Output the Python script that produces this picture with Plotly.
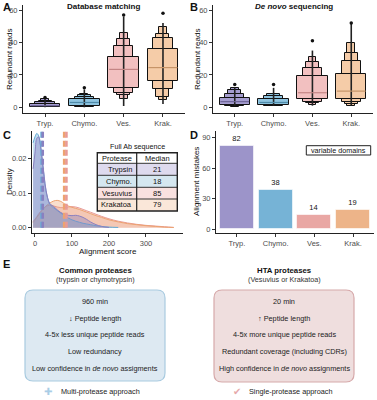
import plotly.graph_objects as go

W, H = 377, 400
FONT = "Liberation Sans, Arial, sans-serif"

# ---------------- data ----------------
categories = ["Tryp.", "Chymo.", "Ves.", "Krak."]
proteases = ["Trypsin", "Chymo.", "Vesuvius", "Krakatoa"]

# Panel A: database matching, letter-value boxes (lower, upper), innermost first
db_boxes = [
    [(0, 2), (0, 3), (0, 4), (0, 5)],
    [(1, 5), (0.5, 6.5), (0, 7.5), (0, 8.5)],
    [(12, 31), (9, 38), (7.5, 42), (4.9, 45.6)],
    [(16, 35.8), (11, 42.5), (6.6, 45), (4.5, 49.5)],
]
db_medians = [1, 3, 23.4, 24.5]
db_min = [0, 0, 0.8, 2]
db_whisker_top = [5.5, 11, 56, 52]
db_outliers = [6, 12, 57, 58]

# Panel B: de novo sequencing
dn_boxes = [
    [(1.5, 6), (1, 8), (0.8, 10.5), (0.5, 12)],
    [(1.5, 5), (1, 7), (0.8, 8.5)],
    [(5, 19.3), (3.5, 24.5), (2.5, 28), (1.5, 31)],
    [(5, 20.3), (3.5, 28.5), (2, 33.7), (1, 39.5)],
]
dn_medians = [3.5, 3, 9, 10]
dn_min = [1, 1, 1, 1]
dn_whisker_top = [12.5, 12, 35, 52]
dn_outliers = [14, 14, 41, 52]

# Panel C: alignment score densities
score_grid = [-5, 0, 5, 10, 15, 20, 25, 30, 40, 50, 60, 70, 80, 90, 100, 110, 120,
              130, 140, 150, 165, 180, 200, 225, 250, 275, 300, 325, 350, 375]
dens_tryp = [0.0170, 0.0215, 0.0258, 0.0262, 0.0238, 0.0195, 0.0148, 0.0108, 0.0070,
             0.0062, 0.0052, 0.0044, 0.0039, 0.0036, 0.0035, 0.0036, 0.0034, 0.0030,
             0.0024, 0.0017, 0.0009, 0.0004, 0.0001]
dens_chymo = [0.0245, 0.0262, 0.0272, 0.0265, 0.0235, 0.0190, 0.0145, 0.0105, 0.0068,
              0.0058, 0.0050, 0.0042, 0.0035, 0.0028, 0.0023, 0.0019, 0.0016, 0.0013,
              0.0011, 0.0009, 0.0006, 0.0004, 0.0002, 0.0001]
dens_ves = [0.0018, 0.0025, 0.0032, 0.0040, 0.0047, 0.0053, 0.0058, 0.0062, 0.0065,
            0.0063, 0.0060, 0.0058, 0.0058, 0.0060, 0.0061, 0.0060, 0.0057, 0.0053,
            0.0049, 0.0045, 0.0039, 0.0033, 0.0026, 0.0019, 0.0014, 0.0010, 0.0007,
            0.0005, 0.0003, 0.0001]
dens_krak = [0.0015, 0.0022, 0.0030, 0.0037, 0.0044, 0.0051, 0.0057, 0.0063, 0.0071,
             0.0077, 0.0079, 0.0076, 0.0069, 0.0063, 0.0059, 0.0056, 0.0053, 0.0049,
             0.0045, 0.0041, 0.0035, 0.0030, 0.0023, 0.0017, 0.0012, 0.0009, 0.0006,
             0.0004, 0.0002, 0.0001]
median_scores = [21, 18, 85, 79]

# Panel D: alignment mistakes (variable domains)
mistakes = [82, 38, 14, 19]

# Panel E texts
common_items = ["960 min", "<b>↓</b> Peptide length", "4-5x less unique peptide reads",
                "Low redundancy", "Low confidence in <i>de novo</i> assigments"]
hta_items = ["20 min", "<b>↑</b> Peptide length", "4-5x more unique peptide reads",
             "Redundant coverage (including CDRs)", "High confidence in <i>de novo</i> assignments"]

# ---------------- style ----------------
box_fill = ["#a59dd0", "#8ec4e0", "#f2c0c0", "#f5cca8"]
median_col = ["#6d6596", "#4f8aa8", "#c48585", "#c69468"]
line_col = ["#8a80c0", "#63abd6", "#e89a97", "#eda370"]
fill_col = ["rgba(138,128,192,0.40)", "rgba(99,171,214,0.40)",
            "rgba(232,154,151,0.35)", "rgba(237,163,112,0.35)"]
bar_col = ["#9c94c9", "#76b3d6", "#e9a7a4", "#edb489"]
row_fill = ["#dedaee", "#d5e7f0", "#f9e1e0", "#fae7d9"]
level_widths = [0.78, 0.5, 0.33, 0.2, 0.12]


def px(x):
    return x / W


def py(y):
    return 1 - y / H


fig = go.Figure()


def add_boxen(boxes, medians, mins, wtops, outs, xa, ya):
    idx = list(range(len(categories)))
    for i in idx:
        fig.add_trace(go.Scatter(x=[i, i], y=[mins[i], wtops[i]], mode="lines",
                                 line=dict(color="#222", width=1.6), xaxis=xa, yaxis=ya,
                                 showlegend=False, hoverinfo="skip"))
        fig.add_trace(go.Scatter(x=[i], y=[outs[i]], mode="markers",
                                 marker=dict(color="#111", size=3.5), xaxis=xa, yaxis=ya,
                                 showlegend=False, hoverinfo="skip"))
    nlev = max(len(b) for b in boxes)
    for lev in range(nlev - 1, -1, -1):
        xs, bases, hs, ws, cs = [], [], [], [], []
        for i in idx:
            if lev < len(boxes[i]):
                lo, hi = boxes[i][lev]
                xs.append(i)
                bases.append(lo)
                hs.append(hi - lo)
                ws.append(level_widths[lev])
                cs.append(box_fill[i])
        fig.add_trace(go.Bar(x=xs, y=hs, base=bases, width=ws,
                             marker=dict(color=cs, line=dict(color="#111", width=1)),
                             xaxis=xa, yaxis=ya, showlegend=False, hoverinfo="skip"))
    for i in idx:
        w = level_widths[0] / 2
        fig.add_trace(go.Scatter(x=[i - w + 0.02, i + w - 0.02], y=[medians[i]] * 2, mode="lines",
                                 line=dict(color=median_col[i], width=1.2), xaxis=xa, yaxis=ya,
                                 showlegend=False, hoverinfo="skip"))


add_boxen(db_boxes, db_medians, db_min, db_whisker_top, db_outliers, "x", "y")
add_boxen(dn_boxes, dn_medians, dn_min, dn_whisker_top, dn_outliers, "x2", "y2")

# Panel C densities
dens = [dens_tryp, dens_chymo, dens_ves, dens_krak]
for i in [2, 3, 1, 0]:
    d = dens[i]
    fig.add_trace(go.Scatter(x=score_grid[:len(d)], y=d, mode="lines", fill="tozeroy",
                             fillcolor=fill_col[i], line=dict(color=line_col[i], width=1, shape="spline"),
                             xaxis="x3", yaxis="y3", showlegend=False, hoverinfo="skip"))
for i in [1, 0, 3, 2]:
    fig.add_trace(go.Scatter(x=[median_scores[i]] * 2, y=[0, 0.0278], mode="lines",
                             line=dict(color=line_col[i], width=2.6, dash="6px,3px"),
                             xaxis="x3", yaxis="y3", showlegend=False, hoverinfo="skip"))

# Panel D bars
fig.add_trace(go.Bar(x=list(range(4)), y=mistakes, width=0.88, text=[str(v) for v in mistakes],
                     textposition="outside", textfont=dict(size=7.5, color="#111", family=FONT),
                     marker=dict(color=bar_col, line=dict(color="rgba(255,255,255,0.6)", width=1)),
                     cliponaxis=False, xaxis="x4", yaxis="y4", showlegend=False, hoverinfo="skip"))

tickfont = dict(size=7.5, color="#4d4d4d", family=FONT)
ax_common = dict(showline=True, linecolor="#222", linewidth=1, ticks="outside", ticklen=3,
                 tickcolor="#333", tickwidth=1, showgrid=False, zeroline=False, tickfont=tickfont,
                 fixedrange=True)

cat_axis = dict(tickvals=[0, 1, 2, 3], ticktext=categories, **ax_common)

fig.update_layout(
    width=W, height=H, margin=dict(l=0, r=0, t=0, b=0),
    paper_bgcolor="white", plot_bgcolor="rgba(0,0,0,0)",
    barmode="overlay", bargap=0, showlegend=False,
    font=dict(family=FONT, color="#111"),
    xaxis=dict(domain=[px(23), px(185)], anchor="y", range=[-0.56, 3.56], **cat_axis),
    yaxis=dict(domain=[py(113), py(5)], anchor="x", range=[-3.5, 63.1], tickvals=[0, 20, 40, 60], **ax_common),
    xaxis2=dict(domain=[px(213), px(373)], anchor="y2", range=[-0.56, 3.56], **cat_axis),
    yaxis2=dict(domain=[py(113), py(5)], anchor="x2", range=[-3.5, 63.1], tickvals=[0, 20, 40, 60], **ax_common),
    xaxis3=dict(domain=[px(32), px(183)], anchor="y3", range=[-8, 400], tickvals=[0, 100, 200, 300], **ax_common),
    yaxis3=dict(domain=[py(233), py(131)], anchor="x3", range=[-0.0015, 0.0279], tickvals=[0, 0.01, 0.02],
                tickformat=".2f", **ax_common),
    xaxis4=dict(domain=[px(216), px(374)], anchor="y4", range=[-0.54, 3.54], **cat_axis),
    yaxis4=dict(domain=[py(233), py(131)], anchor="x4", range=[-3.9, 96.6], tickvals=[0, 30, 60, 90], **ax_common),
)

ann = []


def text(x, y, t, size=7.5, color="#111", bold=False, xanchor="center", angle=0, family=FONT):
    if bold:
        t = "<b>" + t + "</b>"
    ann.append(dict(x=px(x), y=py(y), xref="paper", yref="paper", text=t, showarrow=False,
                    font=dict(size=size, color=color, family=family), xanchor=xanchor,
                    yanchor="middle", textangle=angle))


for lab, x, y in [("A", 1, 7), ("B", 188, 7), ("C", 1, 135), ("D", 188, 135), ("E", 1, 264)]:
    text(x, y, lab, size=11, bold=True, xanchor="left")

text(103, 6, "Database matching", size=8, bold=True)
text(294, 6, "<i>De novo</i> sequencing", size=8, bold=True)

text(9, 60, "Redundant reads", size=8, angle=-90)
text(197, 60, "Redundant reads", size=8, angle=-90)
text(9, 182, "Density", size=8, angle=-90)
text(196, 182, "Alignment mistakes", size=8, angle=-90)
text(108, 251.5, "Alignment score", size=8)

text(338.5, 150.3, "variable domains", size=7.2)

tx0, tx1, tx2 = 97.3, 136.7, 177.3
rows = [152.7, 163.3, 175.3, 187.3, 199.0, 211.0]
shapes = []
for r in range(4):
    shapes.append(dict(type="rect", xref="paper", yref="paper", x0=px(tx0), x1=px(tx2),
                       y0=py(rows[r + 2]), y1=py(rows[r + 1]), fillcolor=row_fill[r],
                       line=dict(width=0), layer="above"))
shapes.append(dict(type="rect", xref="paper", yref="paper", x0=px(tx0), x1=px(tx2),
                   y0=py(rows[1]), y1=py(rows[0]), fillcolor="white", line=dict(width=0), layer="above"))
for yy in rows[1:-1]:
    shapes.append(dict(type="line", xref="paper", yref="paper", x0=px(tx0), x1=px(tx2),
                       y0=py(yy), y1=py(yy), line=dict(color="#333", width=1), layer="above"))
shapes.append(dict(type="line", xref="paper", yref="paper", x0=px(tx1), x1=px(tx1),
                   y0=py(rows[0]), y1=py(rows[-1]), line=dict(color="#222", width=1.2), layer="above"))
shapes.append(dict(type="rect", xref="paper", yref="paper", x0=px(tx0), x1=px(tx2),
                   y0=py(rows[-1]), y1=py(rows[0]), line=dict(color="#222", width=1.4), layer="above"))
text(137.3, 146, "Full Ab sequence", size=7.2)
text(tx1 - 3, (rows[0] + rows[1]) / 2, "Protease", size=7.5, xanchor="right")
text((tx1 + tx2) / 2, (rows[0] + rows[1]) / 2, "Median", size=7.5)
for r in range(4):
    yc = (rows[r + 1] + rows[r + 2]) / 2
    text(tx1 - 3, yc, proteases[r], size=7.5, xanchor="right")
    text((tx1 + tx2) / 2, yc, str(median_scores[r]), size=7.5)

shapes.append(dict(type="rect", xref="paper", yref="paper", x0=px(306.3), x1=px(370.7),
                   y0=py(155), y1=py(145.7), line=dict(color="#222", width=1), fillcolor="white",
                   layer="below"))


def rounded(x0, y0, x1, y1, r):
    X = lambda v: px(v)
    Y = lambda v: py(v)
    return (f"M {X(x0 + r)},{Y(y0)} L {X(x1 - r)},{Y(y0)} Q {X(x1)},{Y(y0)} {X(x1)},{Y(y0 + r)} "
            f"L {X(x1)},{Y(y1 - r)} Q {X(x1)},{Y(y1)} {X(x1 - r)},{Y(y1)} "
            f"L {X(x0 + r)},{Y(y1)} Q {X(x0)},{Y(y1)} {X(x0)},{Y(y1 - r)} "
            f"L {X(x0)},{Y(y0 + r)} Q {X(x0)},{Y(y0)} {X(x0 + r)},{Y(y0)} Z")


shapes.append(dict(type="path", xref="paper", yref="paper", path=rounded(25, 290, 165, 381, 8),
                   fillcolor="#dde9f2", line=dict(color="#a9cbe0", width=1.2), layer="below"))
shapes.append(dict(type="path", xref="paper", yref="paper", path=rounded(214, 290, 354, 382, 8),
                   fillcolor="#efdede", line=dict(color="#d6a9aa", width=1.2), layer="below"))

text(95, 270, "Common proteases", size=7.8, bold=True)
text(95, 279.5, "(trypsin or chymotrypsin)", size=7.2, color="#333")
text(284, 270, "HTA proteases", size=7.8, bold=True)
text(284, 279.5, "(Vesuvius or Krakatoa)", size=7.2, color="#333")
item_y = [301, 318, 334.5, 351.5, 368.5]
for t, yy in zip(common_items, item_y):
    text(95, yy, t, size=7.3, color="#222")
for t, yy in zip(hta_items, item_y):
    text(284, yy, t, size=7.3, color="#222")

text(48, 391.5, "✚", size=10, color="#aacde6", family="DejaVu Sans")
text(59, 391.5, "Multi-protease approach", size=7.3, color="#222", xanchor="left")
text(237, 391.5, "✔", size=10, color="#e6a9aa", family="DejaVu Sans")
text(247, 391.5, "Single-protease approach", size=7.3, color="#222", xanchor="left")

fig.update_layout(annotations=ann, shapes=shapes)
fig.write_html("out.html", config={"displayModeBar": False},
               post_script="document.body.style.margin='0';document.body.style.padding='0';")
